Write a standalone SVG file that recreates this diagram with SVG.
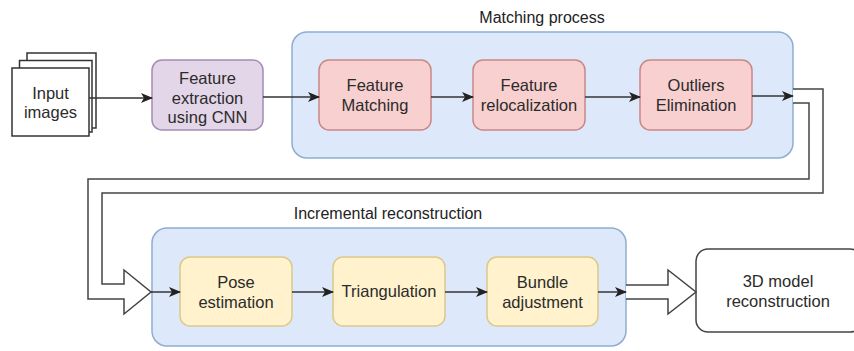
<svg xmlns="http://www.w3.org/2000/svg" width="854" height="351" viewBox="0 0 854 351">
<defs>
<style>
text{font-family:"Liberation Sans",Arial,Helvetica,sans-serif;font-size:16.5px;fill:#2b2b2b;text-anchor:middle}
.title{font-size:16px;fill:#222}
.cont{fill:#dde9fa;stroke:#8fadd0;stroke-width:1.5}
.purple{fill:#e3d6e9;stroke:#a58cb3;stroke-width:1.5}
.red{fill:#f8d0cf;stroke:#c98886;stroke-width:1.5}
.yellow{fill:#fff2cd;stroke:#dcc88a;stroke-width:1.5}
.doc{fill:#fff;stroke:#333;stroke-width:1.5}
.white{fill:#fff;stroke:#444;stroke-width:1.5}
.edge{fill:none;stroke:#333;stroke-width:1.5}
.flex{fill:#fff;stroke:#444;stroke-width:1.5;stroke-linejoin:miter}
</style>
<marker id="ah" viewBox="0 0 12 10" markerWidth="12" markerHeight="10" refX="11" refY="5" orient="auto" markerUnits="userSpaceOnUse">
<path d="M0,0 L12,5 L0,10 L3,5 Z" fill="#222"/>
</marker>
</defs>

<g id="matching-process">
<rect class="cont" x="292" y="32" width="501" height="126" rx="15"/>
<text class="title" x="542" y="23">Matching process</text>
</g>
<g id="incremental-reconstruction">
<rect class="cont" x="152" y="228" width="474" height="118" rx="15"/>
<text class="title" x="388" y="219">Incremental reconstruction</text>
</g>

<g id="input-images">
<rect class="doc" x="27" y="53" width="69" height="75"/>
<rect class="doc" x="19.5" y="60.5" width="72.5" height="71.5"/>
<rect class="doc" x="12" y="68" width="77" height="68"/>
<text x="50.5" y="99">Input</text>
<text x="50.5" y="118">images</text>
</g>

<g id="feature-extraction">
<rect class="purple" x="152" y="60" width="111" height="70" rx="10"/>
<text x="207.5" y="84">Feature</text>
<text x="207.5" y="104">extraction</text>
<text x="207.5" y="123">using CNN</text>
</g>

<g id="feature-matching">
<rect class="red" x="319" y="60" width="112" height="70" rx="10"/>
<text x="375" y="91">Feature</text>
<text x="375" y="111">Matching</text>
</g>
<g id="feature-relocalization">
<rect class="red" x="473" y="60" width="112" height="70" rx="10"/>
<text x="529" y="91">Feature</text>
<text x="529" y="111">relocalization</text>
</g>
<g id="outliers-elimination">
<rect class="red" x="640" y="60" width="112" height="70" rx="10"/>
<text x="696" y="91">Outliers</text>
<text x="696" y="111">Elimination</text>
</g>

<g id="pose-estimation">
<rect class="yellow" x="180" y="257" width="112" height="69" rx="10"/>
<text x="236" y="288">Pose</text>
<text x="236" y="308">estimation</text>
</g>
<g id="triangulation">
<rect class="yellow" x="333" y="257" width="112" height="69" rx="10"/>
<text x="389" y="297">Triangulation</text>
</g>
<g id="bundle-adjustment">
<rect class="yellow" x="487" y="257" width="111" height="69" rx="10"/>
<text x="542.5" y="288">Bundle</text>
<text x="542.5" y="308">adjustment</text>
</g>

<g id="model-reconstruction">
<rect class="white" x="696" y="249" width="166" height="83" rx="12"/>
<text x="778" y="287">3D model</text>
<text x="778" y="307">reconstruction</text>
</g>

<g id="connectors">
<path class="flex" d="M793,89 H823 V193 H102 V284 H124 V270 L151,292 L124,314 V299 H88 V179 H809 V103 H793"/>
<path class="flex" d="M626,285 H668 V270 L696,292 L668,314 V299 H626"/>
<line class="edge" x1="89" y1="98" x2="152" y2="98" marker-end="url(#ah)"/>
<line class="edge" x1="263" y1="97" x2="319" y2="97" marker-end="url(#ah)"/>
<line class="edge" x1="431" y1="97" x2="473" y2="97" marker-end="url(#ah)"/>
<line class="edge" x1="585" y1="97" x2="640" y2="97" marker-end="url(#ah)"/>
<line class="edge" x1="752" y1="96" x2="793" y2="96" marker-end="url(#ah)"/>
<line class="edge" x1="151" y1="292" x2="180" y2="292" marker-end="url(#ah)"/>
<line class="edge" x1="292" y1="292" x2="333" y2="292" marker-end="url(#ah)"/>
<line class="edge" x1="445" y1="292" x2="487" y2="292" marker-end="url(#ah)"/>
<line class="edge" x1="598" y1="292" x2="626" y2="292" marker-end="url(#ah)"/>
</g>
</svg>
